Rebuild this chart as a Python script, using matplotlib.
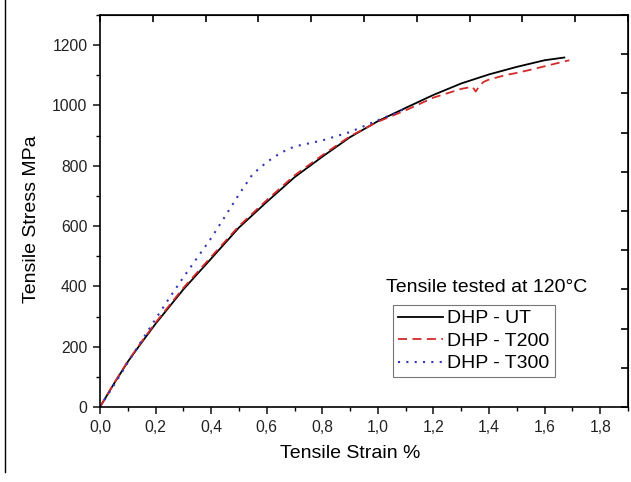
import matplotlib
matplotlib.use('Agg')
import matplotlib.pyplot as plt
from matplotlib.lines import Line2D
from matplotlib.ticker import MultipleLocator, FuncFormatter, FixedLocator, NullFormatter

plt.rcParams['font.family'] = ['Liberation Sans', 'DejaVu Sans']

# ----- data -----
strain_ut = [0.0, 0.05, 0.1, 0.15, 0.2, 0.3, 0.4, 0.5, 0.6, 0.7, 0.8, 0.9, 1.0,
             1.1, 1.2, 1.3, 1.4, 1.5, 1.6, 1.671]
stress_ut = [0, 77, 150, 214, 276, 390, 492, 595, 680, 762, 830, 895, 948,
             992, 1035, 1073, 1103, 1128, 1150, 1159]

strain_t200 = [0.0, 0.05, 0.1, 0.15, 0.2, 0.3, 0.4, 0.5, 0.6, 0.7, 0.8, 0.9, 1.0,
               1.1, 1.2, 1.3, 1.34, 1.352, 1.365, 1.38, 1.4, 1.461, 1.5, 1.557, 1.6, 1.689]
stress_t200 = [0, 78, 152, 217, 280, 395, 498, 600, 686, 768, 835, 898, 946,
               984, 1026, 1055, 1062, 1046, 1064, 1078, 1086, 1101, 1108, 1120, 1130, 1150]

strain_t300 = [0.0, 0.05, 0.1, 0.15, 0.2, 0.25, 0.3, 0.35, 0.4, 0.45, 0.5, 0.55,
               0.6, 0.65, 0.7, 0.8, 0.9, 1.0, 1.05, 1.105]
stress_t300 = [0, 72, 147, 220, 292, 362, 430, 495, 560, 632, 705, 773,
               812, 843, 864, 884, 912, 951, 970, 992]

series_labels = ['DHP - UT', 'DHP - T200', 'DHP - T300']

fig = plt.figure(figsize=(6.31, 4.82), dpi=100)
ax = fig.add_axes([100/631, 75/482, 528/631, 392/482])

ax.plot(strain_ut, stress_ut, color='black', lw=1.3, label=series_labels[0])
ax.plot(strain_t200, stress_t200, color='#d42a2a', lw=1.3, ls=(0, (5, 3)), label=series_labels[1])
ax.plot(strain_t300, stress_t300, color='#3535b5', lw=1.5, ls=(0, (1, 3)), label=series_labels[2])

ax.set_xlim(0, 1.9)
ax.set_ylim(0, 1300)
ax.xaxis.set_major_locator(MultipleLocator(0.2))
ax.xaxis.set_minor_locator(MultipleLocator(0.1))
ax.yaxis.set_major_locator(MultipleLocator(200))
ax.yaxis.set_minor_locator(MultipleLocator(100))
ax.xaxis.set_major_formatter(FuncFormatter(lambda v, p: f"{v:.1f}".replace('.', ',')))
ax.tick_params(which='major', direction='out', length=5, width=1.2, labelsize=11.3, colors='#222222', pad=4)
ax.tick_params(which='minor', direction='out', length=3, width=1.0)
for s in ax.spines.values():
	s.set_linewidth(1.2)

# top / right: 10 equal inward divisions, no labels
top = ax.secondary_xaxis('top', functions=(lambda x: x / 1.9 * 10, lambda x: x * 1.9 / 10))
top.xaxis.set_major_locator(FixedLocator(range(11)))
top.xaxis.set_major_formatter(NullFormatter())
top.tick_params(direction='in', length=5, width=1.2)
right = ax.secondary_yaxis('right', functions=(lambda y: y / 130, lambda y: y * 130))
right.yaxis.set_major_locator(FixedLocator(range(11)))
right.yaxis.set_major_formatter(NullFormatter())
right.tick_params(direction='in', length=5, width=1.2)

ax.set_xlabel('Tensile Strain %', fontsize=14)
ax.set_ylabel('Tensile Stress MPa', fontsize=14)
ax.xaxis.set_label_coords((350 - 100) / 528, (407 - 445) / 392)
ax.yaxis.set_label_coords((40 - 100) / 528, (407 - 219) / 392)

fig.text(487/631, 1 - 287/482, 'Tensile tested at 120°C', fontsize=14, ha='center', va='center')
leg = ax.legend(loc='upper left', bbox_to_anchor=(393/631, 1 - 305/482), bbox_transform=fig.transFigure,
				fontsize=14, frameon=True, fancybox=False, edgecolor='#555555',
				handlelength=2.3, handletextpad=0.25, borderpad=0.25, labelspacing=0.25, borderaxespad=0)
leg.get_frame().set_linewidth(0.8)

# page edge line at the left of the scan
fig.add_artist(Line2D([5/631, 5/631], [1 - 472/482, 1.0], transform=fig.transFigure, color='black', lw=1.0))

fig.savefig('out.png', dpi=100)
